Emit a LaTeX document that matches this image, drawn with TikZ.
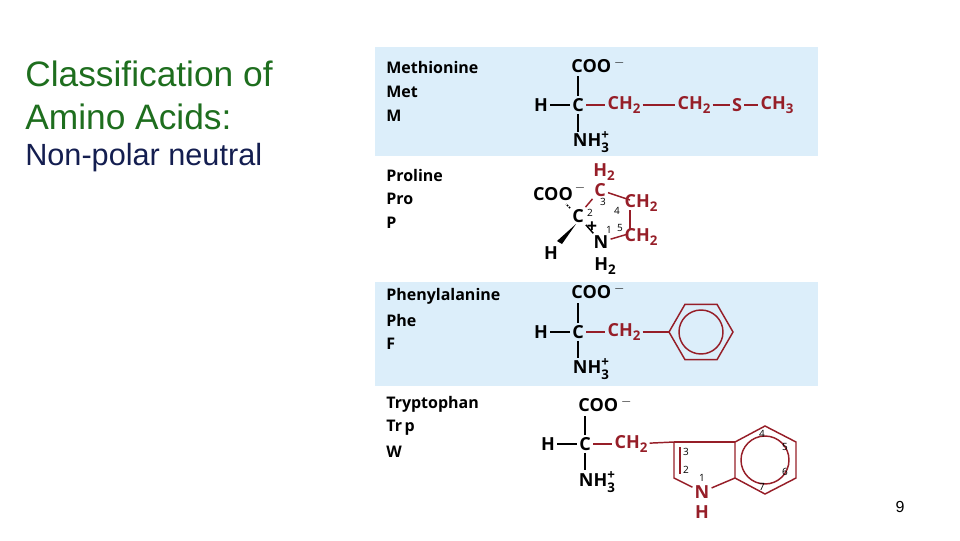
\documentclass[tikz,border=0pt]{standalone}
\usepackage{fontspec}
\setmainfont{Liberation Sans}
\newfontfamily\frm{Open Sans}
\definecolor{bluebg}{RGB}{220,238,250}
\definecolor{rd}{RGB}{150,30,40}
\definecolor{grn}{RGB}{30,110,30}
\definecolor{nav}{RGB}{20,30,80}
\newcommand{\sm}{\fontsize{10}{10}\selectfont}
\newcommand{\lsub}[1]{\raisebox{-0.4ex}{\sm #1}}
\newcommand{\lchg}[2]{\rlap{\raisebox{0.75ex}{\sm #1}}\raisebox{-0.55ex}{\sm #2}}
\newcommand{\lmin}{\raisebox{0.6ex}{\,\sm$-$}}
\begin{document}
\begin{tikzpicture}[x=0.75pt,y=-0.75pt,
  atm/.style={inner sep=1.5pt,font=\frm\bfseries\fontsize{13.5}{14}\selectfont},
  ra/.style={atm,text=rd},
  lab/.style={anchor=west,font=\frm\bfseries\fontsize{12}{14}\selectfont,inner sep=0},
  bd/.style={line width=1.1pt},
  rb/.style={bd,draw=rd},
  num/.style={inner sep=0,font=\frm\fontsize{7.5}{8}\selectfont}]
\useasboundingbox (0,0) rectangle (960,540);
\fill[bluebg] (375,47) rectangle (818,156);
\fill[bluebg] (375,282) rectangle (818,386);
\node[anchor=west,inner sep=0,text=grn,font=\fontsize{26.5}{30}\selectfont] (t1) at (25,74) {Classification of};
\node[anchor=west,inner sep=0,text=grn,font=\fontsize{26.5}{30}\selectfont] (t2) at (25,117) {Amino Acids:};
\node[anchor=west,inner sep=0,text=nav,font=\fontsize{23}{26}\selectfont] (t3) at (25,158) {Non-polar neutral};
\node[font=\fontsize{12}{14}\selectfont] (pg) at (900,507) {9};
% Methionine
\node[lab] (m1) at (386,67) {Methionine};
\node[lab] (m2) at (386,92) {Met};
\node[lab] (m3) at (386,116) {M};
\node[atm] (mcoo) at (598,66) {COO\lmin};
\node[atm] (mh) at (541,105) {H};
\node[atm] (mc) at (578,105) {C};
\node[ra] (mch1) at (624,105) {CH\lsub{2}};
\node[ra] (mch2) at (694,105) {CH\lsub{2}};
\node[ra] (ms) at (737,105) {S};
\node[ra] (mch3) at (777,105) {CH\lsub{3}};
\node[atm] (mnh) at (591,142) {NH\lchg{+}{3}};
\draw[bd] (mh) -- (mc);
\draw[bd] (mc) -- (578,76);
\draw[bd] (mc) -- (578,132);
\draw[rb] (mc) -- (mch1); \draw[rb] (mch1) -- (mch2); \draw[rb] (mch2) -- (ms); \draw[rb] (ms) -- (mch3);
% Proline
\node[lab] (p1) at (386,175) {Proline};
\node[lab] (p2) at (386,199) {Pro};
\node[lab] (p3) at (386,223) {P};
\node[atm] (pcoo) at (553,194) {COO};
\node[atm] (pmin) at (580,188) {\sm$-$};
\node[atm] (pc) at (578,216) {C};
\node[atm] (ph) at (551,253) {H};
\node[atm] (pn) at (601,242) {N};
\node[atm] (pnh) at (605,266) {H\lsub{2}};
\node[atm] (pplus) at (592,227) {+};
\node[ra] (pch2t) at (604,172) {H\lsub{2}};
\node[ra] (pc3) at (600,190) {C};
\node[ra] (pc4) at (641,203) {CH\lsub{2}};
\node[ra] (pc5) at (641,237) {CH\lsub{2}};
\draw[bd,densely dotted] (pc) -- (566,204);
\fill (576,224) -- (557,241) -- (562,244) -- cycle;
\draw[bd] (pc) -- (pn);
\draw[rb] (pc) -- (pc3);
\draw[rb] (pc3) -- (630,200);
\draw[rb] (630,210) -- (630,230);
\draw[rb] (pn) -- (628,234);
\node[num] (n1) at (609,230) {1};
\node[num] (n2) at (590,213) {2};
\node[num] (n3) at (603,202) {3};
\node[num] (n4) at (617,211) {4};
\node[num] (n5) at (620,228) {5};
% Phenylalanine
\node[lab] (f1) at (386,296) {Phenylalanine};
\node[lab] (f2) at (386,320) {Phe};
\node[lab] (f3) at (386,344) {F};
\node[atm] (fcoo) at (598,292) {COO\lmin};
\node[atm] (fh) at (541,332) {H};
\node[atm] (fc) at (578,332) {C};
\node[ra] (fch) at (624,332) {CH\lsub{2}};
\node[atm] (fnh) at (591,369) {NH\lchg{+}{3}};
\coordinate (fr) at (701,332);
\draw[bd] (fh) -- (fc);
\draw[bd] (fc) -- (578,303);
\draw[bd] (fc) -- (578,358);
\draw[rb] (fc) -- (fch);
\draw[rb] (fch) -- (669,332);
\draw[rb] (669,332) -- ++(16,-27.7) -- ++(32,0) -- ++(16,27.7) -- ++(-16,27.7) -- ++(-32,0) -- cycle;
\draw[rb] (fr) circle (22);
% Tryptophan
\node[lab] (w1) at (386,404) {Tryptophan};
\node[lab] (w2) at (386,428) {Tr\,p};
\node[lab] (w3) at (386,452) {W};
\node[atm] (wcoo) at (605,405) {COO\lmin};
\node[atm] (wh) at (548,444) {H};
\node[atm] (wc) at (585,444) {C};
\node[ra] (wch) at (631,444) {CH\lsub{2}};
\node[atm] (wnh) at (597,482) {NH\lchg{+}{3}};
\draw[bd] (wh) -- (wc);
\draw[bd] (wc) -- (585,416);
\draw[bd] (wc) -- (585,470);
\draw[rb] (wc) -- (wch);
\coordinate (c3) at (674,442);
\coordinate (c2) at (674,478);
\node[ra] (wn) at (702,492) {N};
\node[ra] (wnh2) at (702,512) {H};
\coordinate (c3a) at (735,442);
\coordinate (c7a) at (735,478);
\draw[rb] (wch) -- (c3);
\draw[rb] (c3) -- (c2) -- (wn);
\draw[rb] (680,447) -- (680,474);
\draw[rb] (c3) -- (c3a);
\draw[rb] (wn) -- (c7a);
\draw[rb] (c3a) -- (765,426) -- (796,442) -- (796,478) -- (765,494) -- (c7a) -- cycle;
\draw[rb] (765,460) circle (24);
\node[num] (t3n) at (686,452) {3};
\node[num] (t2n) at (686,470) {2};
\node[num] (t1n) at (702,478) {1};
\node[num] (t4n) at (762,434) {4};
\node[num] (t5n) at (785,447) {5};
\node[num] (t6n) at (785,472) {6};
\node[num] (t7n) at (762,487) {7};
\end{tikzpicture}
\end{document}
